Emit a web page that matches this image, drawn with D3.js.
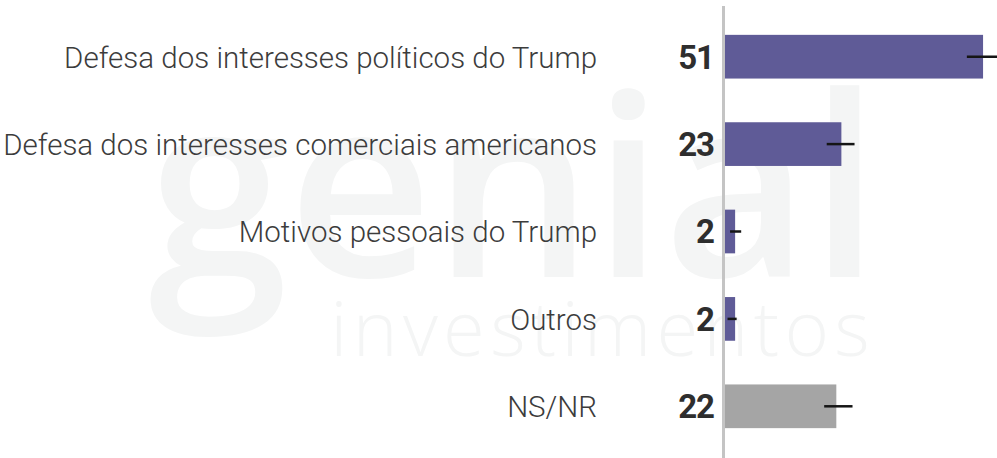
<!DOCTYPE html>
<html>
<head>
<meta charset="utf-8">
<script src="https://cdn.jsdelivr.net/npm/d3@7"></script>
<style>
  html, body { margin: 0; padding: 0; background: #fff; }
  svg { display: block; }
</style>
</head>
<body>
<svg id="chart" width="997" height="458"></svg>
<script>
const categories = [
  "Defesa dos interesses políticos do Trump",
  "Defesa dos interesses comerciais americanos",
  "Motivos pessoais do Trump",
  "Outros",
  "NS/NR"
];
const values = [51, 23, 2, 2, 22];
const errLow = [47.8, 20.1, 1.0, 0.5, 19.6];
const errHigh = [54.2, 25.6, 3.2, 2.3, 25.2];
const barColors = ["#5f5b97", "#5f5b97", "#5f5b97", "#5f5b97", "#a5a5a5"];

const svg = d3.select("#chart");
const W = 997, H = 458;

// watermark
const wm = svg.append("g").attr("fill", "#f4f5f5");
wm.append("text")
  .attr("x", 514).attr("y", 277)
  .attr("text-anchor", "middle")
  .attr("font-family", "'Open Sans', sans-serif")
  .attr("font-weight", 600)
  .attr("font-size", 252)
  .text("genial");
wm.append("text")
  .attr("x", 875).attr("y", 356)
  .attr("text-anchor", "end")
  .attr("font-family", "'Open Sans', sans-serif")
  .attr("font-weight", 300)
  .attr("font-size", 76)
  .attr("letter-spacing", 5.3)
  .text("investimentos");

const x = d3.scaleLinear().domain([0, 100]).range([725, 725 + 506]);
const y = d3.scaleBand().domain(categories).range([13, 450]).paddingInner(0.5).paddingOuter(0.25);

const data = categories.map((c, i) => ({ c, v: values[i], lo: errLow[i], hi: errHigh[i], col: barColors[i] }));

svg.append("g").selectAll("rect").data(data).join("rect")
  .attr("x", x(0))
  .attr("y", d => y(d.c))
  .attr("width", d => x(d.v) - x(0))
  .attr("height", y.bandwidth())
  .attr("fill", d => d.col);

svg.append("g").selectAll("line").data(data).join("line")
  .attr("x1", d => x(d.lo))
  .attr("x2", d => x(d.hi))
  .attr("y1", d => y(d.c) + y.bandwidth() / 2)
  .attr("y2", d => y(d.c) + y.bandwidth() / 2)
  .attr("stroke", "#151515")
  .attr("stroke-width", 2.5);

// axis line
svg.append("line")
  .attr("x1", 723.5).attr("x2", 723.5)
  .attr("y1", 6).attr("y2", H)
  .attr("stroke", "#c4c4c4")
  .attr("stroke-width", 3);

// category labels
svg.append("g").selectAll("text").data(data).join("text")
  .attr("x", 597)
  .attr("y", d => y(d.c) + y.bandwidth() / 2)
  .attr("dy", "0.37em")
  .attr("text-anchor", "end")
  .attr("font-family", "'Roboto Light', Roboto, sans-serif")
  .attr("font-weight", 300)
  .attr("font-size", 29.5)
  .attr("fill", "#3c3c3c")
  .text(d => d.c);

// value labels
svg.append("g").selectAll("text").data(data).join("text")
  .attr("x", 714)
  .attr("y", d => y(d.c) + y.bandwidth() / 2)
  .attr("dy", "0.36em")
  .attr("text-anchor", "end")
  .attr("font-family", "Roboto, sans-serif")
  .attr("font-weight", 700)
  .attr("font-size", 33)
  .attr("letter-spacing", -1)
  .attr("fill", "#2e2e2e")
  .text(d => d.v);
</script>
</body>
</html>
